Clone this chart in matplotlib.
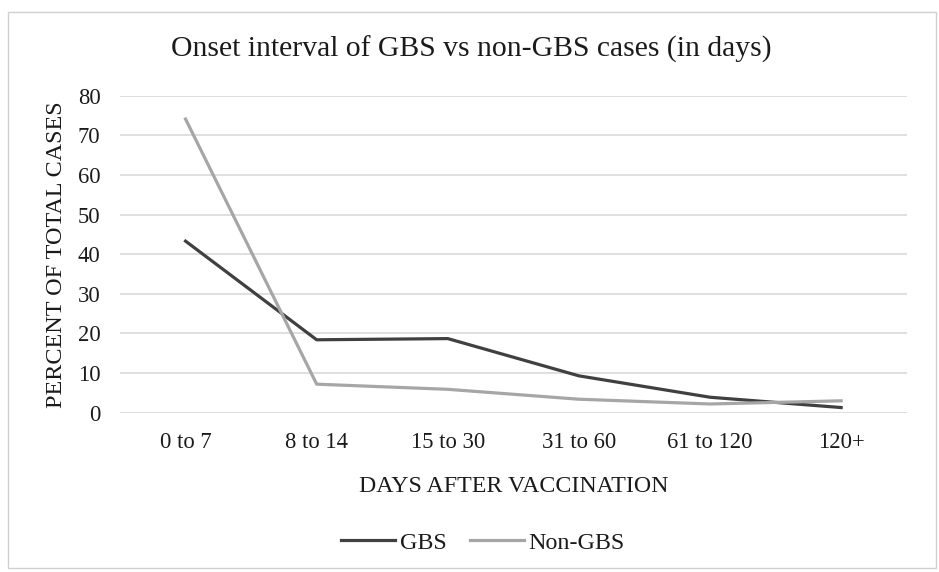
import matplotlib.pyplot as plt
from matplotlib.patches import Rectangle

plt.rcParams["font.family"] = ["Liberation Serif", "DejaVu Serif"]

categories = ["0 to 7", "8 to 14", "15 to 30", "31 to 60", "61 to 120", "120+"]
gbs = [43.3, 18.4, 18.7, 9.3, 3.9, 1.3]
non_gbs = [74.1, 7.2, 5.9, 3.4, 2.2, 3.0]
y_ticks = [0, 10, 20, 30, 40, 50, 60, 70, 80]

fig = plt.figure(figsize=(9.39, 5.72), dpi=100)
ax = fig.add_axes([0.1278, 0.2785, 0.8378, 0.5542])

x = range(len(categories))
ax.plot(x, gbs, color="#404040", lw=2.3, label="GBS", solid_joinstyle="round")
ax.plot(x, non_gbs, color="#a6a6a6", lw=2.3, label="Non-GBS", solid_joinstyle="round")

ax.set_xlim(-0.5, len(categories) - 0.5)
ax.set_ylim(0, 80)
ax.set_yticks(y_ticks)
ax.set_xticks(list(x))
ax.set_xticklabels(categories)
ax.grid(axis="y", color="#d9d9d9", lw=1.2)
ax.set_axisbelow(True)
for sp in ax.spines.values():
    sp.set_visible(False)
ax.tick_params(length=0, labelsize=16.3, colors="#1a1a1a")
ax.tick_params(axis="y", pad=14)
ax.tick_params(axis="x", pad=14)

ax.set_ylabel("PERCENT OF TOTAL CASES", fontsize=17.4, color="#1a1a1a")
ax.yaxis.set_label_coords(-0.068, 0.5)
ax.set_xlabel("DAYS AFTER VACCINATION", fontsize=17.2, color="#1a1a1a")
ax.xaxis.set_label_coords(0.5, -0.2)

fig.text(0.5016, 1 - 49 / 572, "Onset interval of GBS vs non-GBS cases (in days)",
         ha="center", va="center", fontsize=21.3, color="#1a1a1a")

fig.legend(loc="center", bbox_to_anchor=(0.5144, 0.051), ncol=2, frameon=False,
           fontsize=17.3, handlelength=2.25, handletextpad=0.17, columnspacing=1.0,
           labelcolor="#1a1a1a")

fig.patches.append(Rectangle((8 / 939, 1 - 568 / 572), 928 / 939, 556 / 572,
                             transform=fig.transFigure, fill=False,
                             edgecolor="#d0d0d0", lw=1.0))

fig.savefig("out.png", dpi=100)
